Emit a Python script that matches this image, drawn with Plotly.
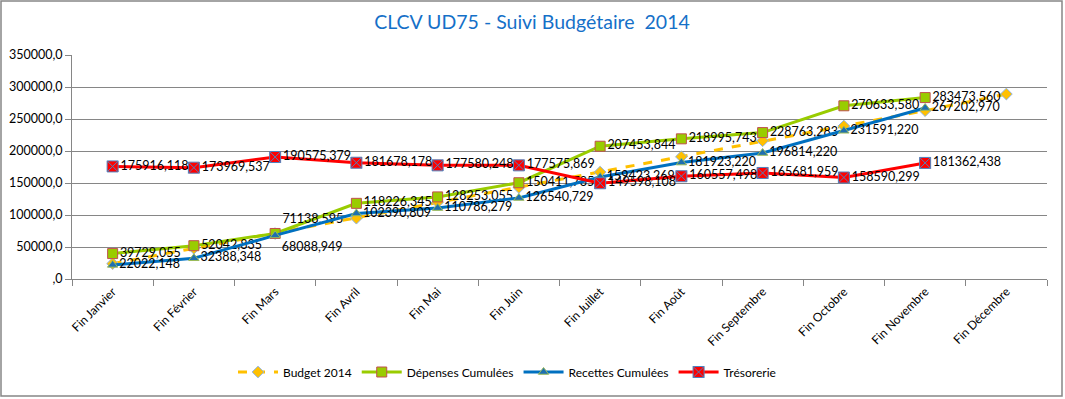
import plotly.graph_objects as go

months = ["Fin Janvier", "Fin Février", "Fin Mars", "Fin Avril", "Fin Mai", "Fin Juin",
          "Fin Juillet", "Fin Août", "Fin Septembre", "Fin Octobre", "Fin Novembre", "Fin Décembre"]

budget = [24000, 48000, 71000, 95000, 120000, 143000, 167000, 191000, 216000, 239000, 263000, 289000]
depenses = [39729.055, 52042.835, 71138.595, 118226.345, 128253.055, 150411.785,
            207453.844, 218995.743, 228763.283, 270633.580, 283473.560, None]
recettes = [22022.148, 32388.348, 68088.949, 102390.809, 110786.279, 126540.729,
            159423.269, 181923.220, 196814.220, 231591.220, 267202.970, None]
tresorerie = [175916.118, 173969.537, 190575.379, 181678.178, 177580.248, 177575.869,
              149598.108, 160557.498, 165681.959, 158590.299, 181362.438, None]

y_ticks = [0, 50000, 100000, 150000, 200000, 250000, 300000, 350000]
y_ticktext = [",0", "50000,0", "100000,0", "150000,0", "200000,0", "250000,0", "300000,0", "350000,0"]


def fmt(v):
    return "" if v is None else f"{v:.3f}".replace(".", ",")


def positions(vals, special=None):
    pos = ["middle right"] * len(vals)
    if special:
        for i, p in special.items():
            pos[i] = p
    return pos


W, H = 1065, 399
ml, mr, mt, mb = 72, 18, 55, 120
pw, ph = W - ml - mr, H - mt - mb

FONT = "Lato, Open Sans, sans-serif"
label_font = dict(family=FONT, size=12.5, color="black")

fig = go.Figure()
fig.add_trace(go.Scatter(
    x=months, y=budget, name="Budget 2014", mode="lines+markers",
    line=dict(color="#FFC000", width=3, dash="dash"),
    marker=dict(symbol="diamond", size=9, color="#FFC000", line=dict(color="#8EB4E3", width=1)),
))
fig.add_trace(go.Scatter(
    x=months, y=depenses, name="Dépenses Cumulées", mode="lines+markers+text",
    text=[fmt(v) for v in depenses], textposition=positions(depenses, {2: "top right"}),
    textfont=label_font,
    line=dict(color="#99CC00", width=3),
    marker=dict(symbol="square", size=10, color="#99CC00", line=dict(color="#C0504D", width=1)),
))
fig.add_trace(go.Scatter(
    x=months, y=recettes, name="Recettes Cumulées", mode="lines+markers+text",
    text=[fmt(v) for v in recettes], textposition=positions(recettes, {2: "bottom right"}),
    textfont=label_font,
    line=dict(color="#0070C0", width=3),
    marker=dict(symbol="triangle-up", size=9, color="#1F6FB0", line=dict(color="#9BBB59", width=1)),
))
fig.add_trace(go.Scatter(
    x=months, y=tresorerie, name="Trésorerie", mode="lines+markers+text",
    text=[fmt(v) for v in tresorerie], textposition=positions(tresorerie),
    textfont=label_font,
    line=dict(color="#FF0000", width=3),
    marker=dict(symbol="square-x", size=11, color="#FF0000", line=dict(color="#4F81BD", width=1)),
))

fig.update_layout(
    width=W, height=H,
    margin=dict(l=ml, r=mr, t=mt, b=mb, autoexpand=False),
    paper_bgcolor="white", plot_bgcolor="white",
    title=dict(text="CLCV UD75 - Suivi Budgétaire  2014", x=532 / W, xanchor="center",
               y=1 - 22 / H, yanchor="middle",
               font=dict(family=FONT, size=19.5, color="#1570C8")),
    font=dict(family=FONT, size=12, color="black"),
    showlegend=True,
    legend=dict(orientation="h", x=(507 - ml) / pw, xanchor="center", y=(279 - 372) / ph,
                yanchor="middle", font=dict(size=12), bgcolor="rgba(0,0,0,0)", itemwidth=40),
    xaxis=dict(type="category", tickangle=-45, ticks="outside", ticklen=6, tickcolor="#868686",
               tickson="boundaries", showline=True, linecolor="#868686", showgrid=False,
               range=[-0.5, 11.5], tickfont=dict(size=12), automargin=False),
    yaxis=dict(range=[0, 350000], tickvals=y_ticks, ticktext=y_ticktext, showgrid=True,
               gridcolor="#868686", gridwidth=1, showline=True, linecolor="#868686",
               ticks="outside", ticklen=6, tickcolor="#868686", zeroline=False,
               tickfont=dict(size=12.5), automargin=False),
    shapes=[dict(type="rect", xref="paper", yref="paper",
                 x0=(1 - ml) / pw, x1=(W - 3 - ml) / pw,
                 y0=-(mb - 3) / ph, y1=(ph + mt - 1) / ph,
                 line=dict(color="#868686", width=1.5), fillcolor="rgba(0,0,0,0)")],
)

fig.write_html("out.html", config={"displayModeBar": False},
               post_script="document.body.style.margin='0';")
